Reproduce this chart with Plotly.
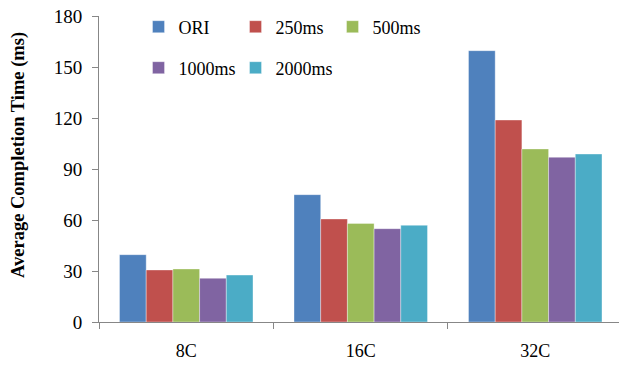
import plotly.graph_objects as go

categories = ["8C", "16C", "32C"]
series_names = ["ORI", "250ms", "500ms", "1000ms", "2000ms"]
ori = [39.6, 74.9, 159.6]
ms250 = [30.6, 60.6, 118.8]
ms500 = [31.2, 58.0, 101.8]
ms1000 = [25.7, 54.9, 96.9]
ms2000 = [27.6, 56.9, 98.8]
colors = ["#4F81BD", "#C0504D", "#9BBB59", "#8064A2", "#4BACC6"]
y_ticks = [0, 30, 60, 90, 120, 150, 180]

values = [ori, ms250, ms500, ms1000, ms2000]
legend_ids = ["legend", "legend", "legend", "legend2", "legend2"]

fig = go.Figure()
for name, vals, col, lg in zip(series_names, values, colors, legend_ids):
    fig.add_trace(go.Bar(
        x=categories, y=vals, name=name, legend=lg,
        marker=dict(color=col, line=dict(color="rgba(255,255,255,0.6)", width=0.6)),
    ))

serif = "Liberation Serif"
legend_common = dict(
    orientation="h", xanchor="left", yanchor="middle",
    font=dict(family=serif, size=18, color="#000"),
    bgcolor="rgba(0,0,0,0)", entrywidth=52, entrywidthmode="pixels",
    itemwidth=30, tracegroupgap=0,
)

plot_h = 367 - 16 - 45
fig.update_layout(
    width=619, height=367,
    margin=dict(l=99, r=0, t=16, b=45),
    paper_bgcolor="white", plot_bgcolor="white",
    barmode="group", bargap=0.235, bargroupgap=0,
    font=dict(family=serif, size=17, color="#000"),
    legend=dict(x=0.076, y=(367 - 27 - 45) / plot_h, yref="paper", **legend_common),
    legend2=dict(x=0.076, y=(367 - 68 - 45) / plot_h, yref="paper", **legend_common),
    xaxis=dict(
        range=[-0.5, 2.48], showline=True, linecolor="#878787", linewidth=1,
        ticks="outside", tickson="boundaries", ticklen=6, tickcolor="#878787",
        ticklabelstandoff=12,
        tickfont=dict(family=serif, size=18, color="#000"),
    ),
    yaxis=dict(
        range=[0, 180], tickvals=y_ticks, showgrid=False, zeroline=False,
        showline=True, linecolor="#878787", linewidth=1,
        ticks="outside", ticklen=6, tickcolor="#878787", ticklabelstandoff=6,
        tickfont=dict(family=serif, size=19, color="#000"),
    ),
    annotations=[dict(
        text="<b>Average Completion Time (ms)</b>", textangle=-90,
        xref="paper", yref="paper", x=(18 - 99) / 520, y=(367 - 155 - 45) / plot_h,
        xanchor="center", yanchor="middle", showarrow=False,
        font=dict(family=serif, size=18.5, color="#000"),
    )],
)

fig.write_html("out.html")
